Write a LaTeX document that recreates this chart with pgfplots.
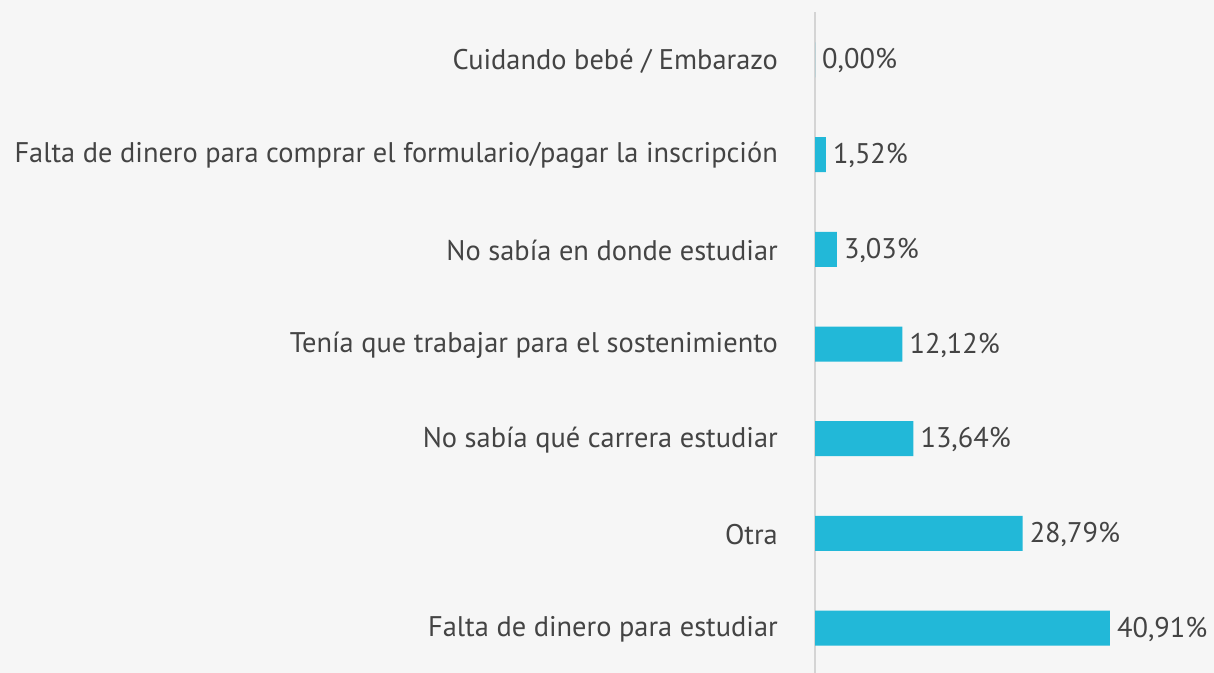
\documentclass[border=0pt]{standalone}
\usepackage{pgfplots}
\pgfplotsset{compat=1.18}
\usepackage{fontspec}
\setmainfont{PT Sans}
\definecolor{bg}{HTML}{F6F6F6}
\definecolor{bar}{HTML}{22B8D8}
\definecolor{txt}{HTML}{444444}
\definecolor{axl}{HTML}{D4D4D4}
\begin{document}
\begin{tikzpicture}
\fill[bg] (0,0) rectangle (1214bp,673bp);
\useasboundingbox (0,0) rectangle (1214bp,673bp);
\begin{axis}[
  at={(815bp,0bp)}, anchor=south west,
  scale only axis, width=399bp, height=661bp,
  xmin=0, xmax=55.34, ymin=-0.475, ymax=6.507,
  axis x line=none,
  axis y line=left,
  axis line style={axl, line width=1.5bp, -},
  xbar, bar width=35bp,
  ytick={0,1,2,3,4,5,6},
  yticklabels={Falta de dinero para estudiar, Otra, No sabía qué carrera estudiar, Tenía que trabajar para el sostenimiento, No sabía en donde estudiar, Falta de dinero para comprar el formulario/pagar la inscripción, Cuidando bebé / Embarazo},
  major tick length=0pt,
  yticklabel style={font=\fontsize{28.5}{32}\selectfont, text=txt, anchor=east, inner sep=0pt, xshift=-37bp, yshift=-1bp},
  point meta=explicit symbolic,
  nodes near coords,
  nodes near coords style={font=\fontsize{28.5}{32}\selectfont, text=txt, anchor=west, inner sep=0pt, xshift=7bp, yshift=-1bp},
]
\addplot[fill=bar, draw=none] coordinates {
  (40.91,0) [40,91\%]
  (28.79,1) [28,79\%]
  (13.64,2) [13,64\%]
  (12.12,3) [12,12\%]
  (3.03,4) [3,03\%]
  (1.52,5) [1,52\%]
  (0.00,6) [0,00\%]
};
\end{axis}
\end{tikzpicture}
\end{document}
